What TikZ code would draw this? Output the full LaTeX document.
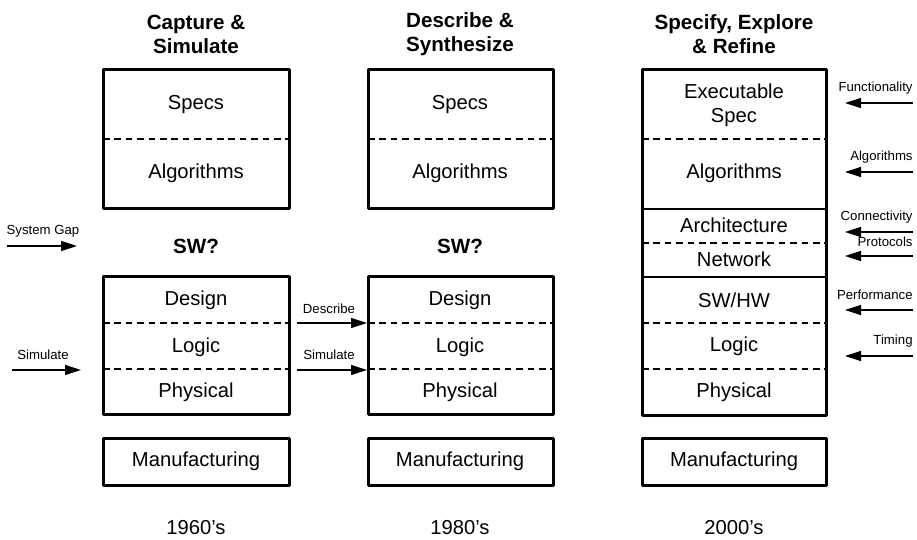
\documentclass[tikz,border=0pt]{standalone}
\usepackage{fontspec}
\setmainfont{Liberation Sans}
\usetikzlibrary{arrows.meta}

\begin{document}
\begin{tikzpicture}[x=0.5pt,y=-0.5pt]
	\useasboundingbox (0,0) rectangle (917,540);
	% column titles
	\begin{scope}[every node/.style = {align=center, inner sep=0pt,
			font=\fontsize{10.3}{12}\selectfont\bfseries}]
		\node (T1) at (196,34) {Capture \&\\Simulate};
		\node (T2) at (460,34) {Describe \&\\Synthesize};
		\node (T3) at (734,34) {Specify, Explore\\\& Refine};
		\node (SW1) at (196,246) {SW?};
		\node (SW2) at (460,246) {SW?};
	\end{scope}
	% layer texts
	\begin{scope}[every node/.style = {align=center, inner sep=0pt,
			font=\fontsize{10.1}{12}\selectfont}]
		\node (A1) at (196,105) {Specs};
		\node (A2) at (196,173) {Algorithms};
		\node (A3) at (196,300) {Design};
		\node (A4) at (196,347) {Logic};
		\node (A5) at (196,392) {Physical};
		\node (A6) at (196,461) {Manufacturing};
		\node (Y1) at (196,528) {1960's};
		\node (B1) at (460,105) {Specs};
		\node (B2) at (460,173) {Algorithms};
		\node (B3) at (460,300) {Design};
		\node (B4) at (460,347) {Logic};
		\node (B5) at (460,392) {Physical};
		\node (B6) at (460,461) {Manufacturing};
		\node (Y2) at (460,528) {1980's};
		\node (C1) at (734,105) {Executable\\Spec};
		\node (C2) at (734,173) {Algorithms};
		\node (C3) at (734,225) {Architecture};
		\node (C4) at (734,259) {Network};
		\node (C5) at (734,300) {SW/HW};
		\node (C6) at (734,346) {Logic};
		\node (C7) at (734,392) {Physical};
		\node (C8) at (734,461) {Manufacturing};
		\node (Y3) at (734,528) {2000's};
	\end{scope}
	% arrow labels
	\begin{scope}[every node/.style = {inner sep=0pt,
			font=\fontsize{6.6}{8}\selectfont}]
		\node (gap) at (43,231) {System Gap};
		\node (sim1) at (43,355) {Simulate};
		\node (desc) at (329,309) {Describe};
		\node (sim2) at (329,355) {Simulate};
		\node[anchor=east] (func) at (913,88) {Functionality};
		\node[anchor=east] (algo) at (913,157) {Algorithms};
		\node[anchor=east] (conn) at (913,217) {Connectivity};
		\node[anchor=east] (prot) at (913,242) {Protocols};
		\node[anchor=east] (perf) at (913,295) {Performance};
		\node[anchor=east] (timg) at (913,341) {Timing};
	\end{scope}
	% arrow ends
	\coordinate (gapA) at (7,246);   \coordinate (gapB) at (77,246);
	\coordinate (sim1A) at (12,370); \coordinate (sim1B) at (81,370);
	\coordinate (descA) at (297,323); \coordinate (descB) at (367,323);
	\coordinate (sim2A) at (297,370); \coordinate (sim2B) at (367,370);
	\coordinate (funcA) at (913,103); \coordinate (funcB) at (845,103);
	\coordinate (algoA) at (913,172); \coordinate (algoB) at (845,172);
	\coordinate (connA) at (913,232); \coordinate (connB) at (845,232);
	\coordinate (protA) at (913,256); \coordinate (protB) at (845,256);
	\coordinate (perfA) at (913,310); \coordinate (perfB) at (845,310);
	\coordinate (timgA) at (913,356); \coordinate (timgB) at (845,356);
	\begin{scope}[>={Triangle[length=8pt,width=5pt]},
			every edge/.style={draw=black, line width=0.6pt}]
		\path [->] (gapA) edge (gapB);
		\path [->] (sim1A) edge (sim1B);
		\path [->] (descA) edge (descB);
		\path [->] (sim2A) edge (sim2B);
		\path [->] (funcA) edge (funcB);
		\path [->] (algoA) edge (algoB);
		\path [->] (connA) edge (connB);
		\path [->] (protA) edge (protB);
		\path [->] (perfA) edge (perfB);
		\path [->] (timgA) edge (timgB);
	\end{scope}
	% layer separators
	\begin{scope}[line width=0.6pt, dash pattern=on 3.3pt off 2.4pt]
		\draw (103,139) -- (289,139);
		\draw (103,323) -- (289,323);
		\draw (103,369) -- (289,369);
		\draw (368,139) -- (553,139);
		\draw (368,323) -- (553,323);
		\draw (368,369) -- (553,369);
		\draw (642,139) -- (826,139);
		\draw (642,243) -- (826,243);
		\draw (642,323) -- (826,323);
		\draw (642,369) -- (826,369);
	\end{scope}
	\draw[line width=0.6pt] (642,209) -- (826,209);
	\draw[line width=0.6pt] (642,277) -- (826,277);
	% boxes
	\begin{scope}[line width=1.5pt, line join=round]
		\draw (103,70) rectangle (289,209);
		\draw (103,277) rectangle (289,414);
		\draw (103,438) rectangle (289,485);
		\draw (368,70) rectangle (553,209);
		\draw (368,277) rectangle (553,414);
		\draw (368,438) rectangle (553,485);
		\draw (642,70) rectangle (826,415);
		\draw (642,438) rectangle (826,485);
	\end{scope}

\end{tikzpicture}
\end{document}
